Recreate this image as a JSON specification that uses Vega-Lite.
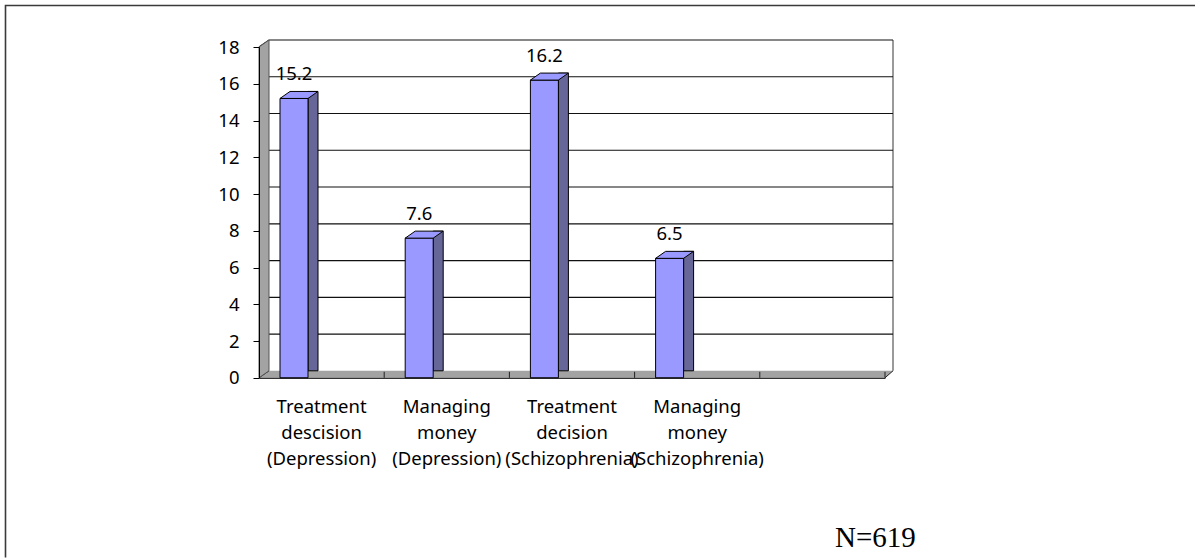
{
  "$schema": "https://vega.github.io/schema/vega-lite/v6.json",
  "width": 1188,
  "height": 553,
  "autosize": {"type": "none"},
  "padding": {"left": 5, "top": 5, "right": 2, "bottom": 0},
  "background": "white",
  "config": {"view": {"stroke": null}},
  "title": {
    "text": "N=619",
    "orient": "bottom",
    "anchor": "start",
    "frame": "group",
    "dx": 830,
    "offset": -37,
    "baseline": "top",
    "font": "Liberation Serif",
    "fontSize": 29,
    "fontWeight": "normal",
    "color": "black"
  },
  "data": {
    "values": [
      {"category": "Treatment|descision|(Depression)", "percent": 15.2},
      {"category": "Managing|money|(Depression)", "percent": 7.6},
      {"category": "Treatment|decision|(Schizophrenia)", "percent": 16.2},
      {"category": "Managing|money|(Schizophrenia)", "percent": 6.5}
    ]
  },
  "encoding": {
    "x": {
      "field": "category",
      "type": "nominal",
      "sort": null,
      "title": null,
      "scale": {
        "domain": ["Treatment|descision|(Depression)", "Managing|money|(Depression)", "Treatment|decision|(Schizophrenia)", "Managing|money|(Schizophrenia)", " "],
        "range": [254, 880],
        "paddingInner": 0,
        "paddingOuter": 0
      },
      "axis": {
        "title": null,
        "offset": -180.2,
        "domain": true,
        "domainColor": "black",
        "domainWidth": 1,
        "ticks": false,
        "grid": false,
        "labelExpr": "split(datum.label, '|')",
        "labelFont": "Noto Sans",
        "labelFontSize": 18.5,
        "labelColor": "black",
        "labelLineHeight": 26,
        "labelPadding": 20,
        "labelBaseline": "top",
        "labelAngle": 0,
        "labelOverlap": false,
        "labelLimit": 300,
        "zindex": 1
      }
    },
    "y": {
      "field": "percent",
      "type": "quantitative",
      "title": null,
      "scale": {"domain": [0, 18], "range": [372.8, 42], "nice": false, "zero": true},
      "axis": {
        "title": null,
        "offset": -254,
        "values": [0, 2, 4, 6, 8, 10, 12, 14, 16, 18],
        "grid": false,
        "domainColor": "black",
        "domainWidth": 1,
        "tickColor": "black",
        "tickSize": 6,
        "labelPadding": 14,
        "labelFont": "Noto Sans",
        "labelFontSize": 18.5,
        "labelColor": "black",
        "zindex": 1
      }
    }
  },
  "layer": [
    {
      "data": {"values": [{"level": 18}]},
      "mark": {"type": "point", "shape": "M-253.5,510.5 L-253.5,-41.5 L945,-41.5", "size": 4, "filled": false, "fillOpacity": 0, "stroke": "#3a3a3a", "strokeWidth": 1.6, "opacity": 1, "xOffset": -62.6},
      "encoding": {
        "x": {"datum": "Treatment|descision|(Depression)", "type": "nominal"},
        "y": {"field": "level", "type": "quantitative", "title": null}
      }
    },
    {
      "data": {"values": [{"level": 18}]},
      "mark": {"type": "point", "shape": "M634,323.8 L634,-7", "size": 4, "filled": false, "fillOpacity": 0, "stroke": "#9a9a9a", "strokeWidth": 2, "opacity": 1, "xOffset": -62.6},
      "encoding": {
        "x": {"datum": "Treatment|descision|(Depression)", "type": "nominal"},
        "y": {"field": "level", "type": "quantitative", "title": null}
      }
    },
    {
      "data": {"values": [{"level": 18}]},
      "mark": {"type": "point", "shape": "M0,330.8 L626,330.8 L634,323.8 L10,323.8 Z", "size": 4, "filled": true, "fill": "#a3a3a3", "strokeWidth": 0, "opacity": 1, "xOffset": -62.6},
      "encoding": {
        "x": {"datum": "Treatment|descision|(Depression)", "type": "nominal"},
        "y": {"field": "level", "type": "quantitative", "title": null}
      }
    },
    {
      "data": {"values": [{"level": 18}]},
      "mark": {"type": "point", "shape": "M0,330.8 L10,323.8 M125.2,330.8 L125.2,324.8 M250.4,330.8 L250.4,324.8 M375.6,330.8 L375.6,324.8 M500.8,330.8 L500.8,324.8 M626,330.8 L626,324.8 M626,330.8 L634,323.8", "size": 4, "filled": false, "fillOpacity": 0, "stroke": "#222222", "strokeWidth": 1, "opacity": 1, "xOffset": -62.6},
      "encoding": {
        "x": {"datum": "Treatment|descision|(Depression)", "type": "nominal"},
        "y": {"field": "level", "type": "quantitative", "title": null}
      }
    },
    {
      "data": {"values": [{"level": 2}, {"level": 4}, {"level": 6}, {"level": 8}, {"level": 10}, {"level": 12}, {"level": 14}, {"level": 16}, {"level": 18}]},
      "mark": {"type": "point", "shape": "M0,0 L10,-7 L634,-7", "size": 4, "filled": false, "fillOpacity": 0, "stroke": "#111111", "strokeWidth": 1.2, "opacity": 1, "xOffset": -62.6},
      "encoding": {
        "x": {"datum": "Treatment|descision|(Depression)", "type": "nominal"},
        "y": {"field": "level", "type": "quantitative", "title": null}
      }
    },
    {
      "data": {"values": [{"level": 18}]},
      "mark": {"type": "point", "shape": "M0,330.8 L10,323.8 L10,-7 L0,0 Z", "size": 4, "filled": true, "fill": "#a3a3a3", "stroke": "#555555", "strokeWidth": 1, "opacity": 1, "xOffset": -62.6},
      "encoding": {
        "x": {"datum": "Treatment|descision|(Depression)", "type": "nominal"},
        "y": {"field": "level", "type": "quantitative", "title": null}
      }
    },
    {
      "mark": {"type": "bar", "width": 10, "xOffset": -8.6, "yOffset": -7, "y2Offset": 0, "fill": "#666699", "stroke": "black", "strokeWidth": 1}
    },
    {
      "mark": {"type": "bar", "width": 28, "xOffset": -27.6, "fill": "#9999FF", "stroke": "black", "strokeWidth": 1}
    },
    {
      "mark": {"type": "point", "shape": "M-14,0 L-4,-7 L24,-7 L14,0 Z", "size": 4, "filled": true, "fill": "#9999FF", "stroke": "black", "strokeWidth": 1, "opacity": 1, "xOffset": -27.6}
    },
    {
      "mark": {"type": "text", "xOffset": -27.6, "dy": -18, "baseline": "alphabetic", "align": "center", "font": "Noto Sans", "fontSize": 18.5, "color": "black"},
      "encoding": {
        "text": {"field": "percent", "type": "quantitative", "format": ".1f"}
      }
    }
  ]
}
